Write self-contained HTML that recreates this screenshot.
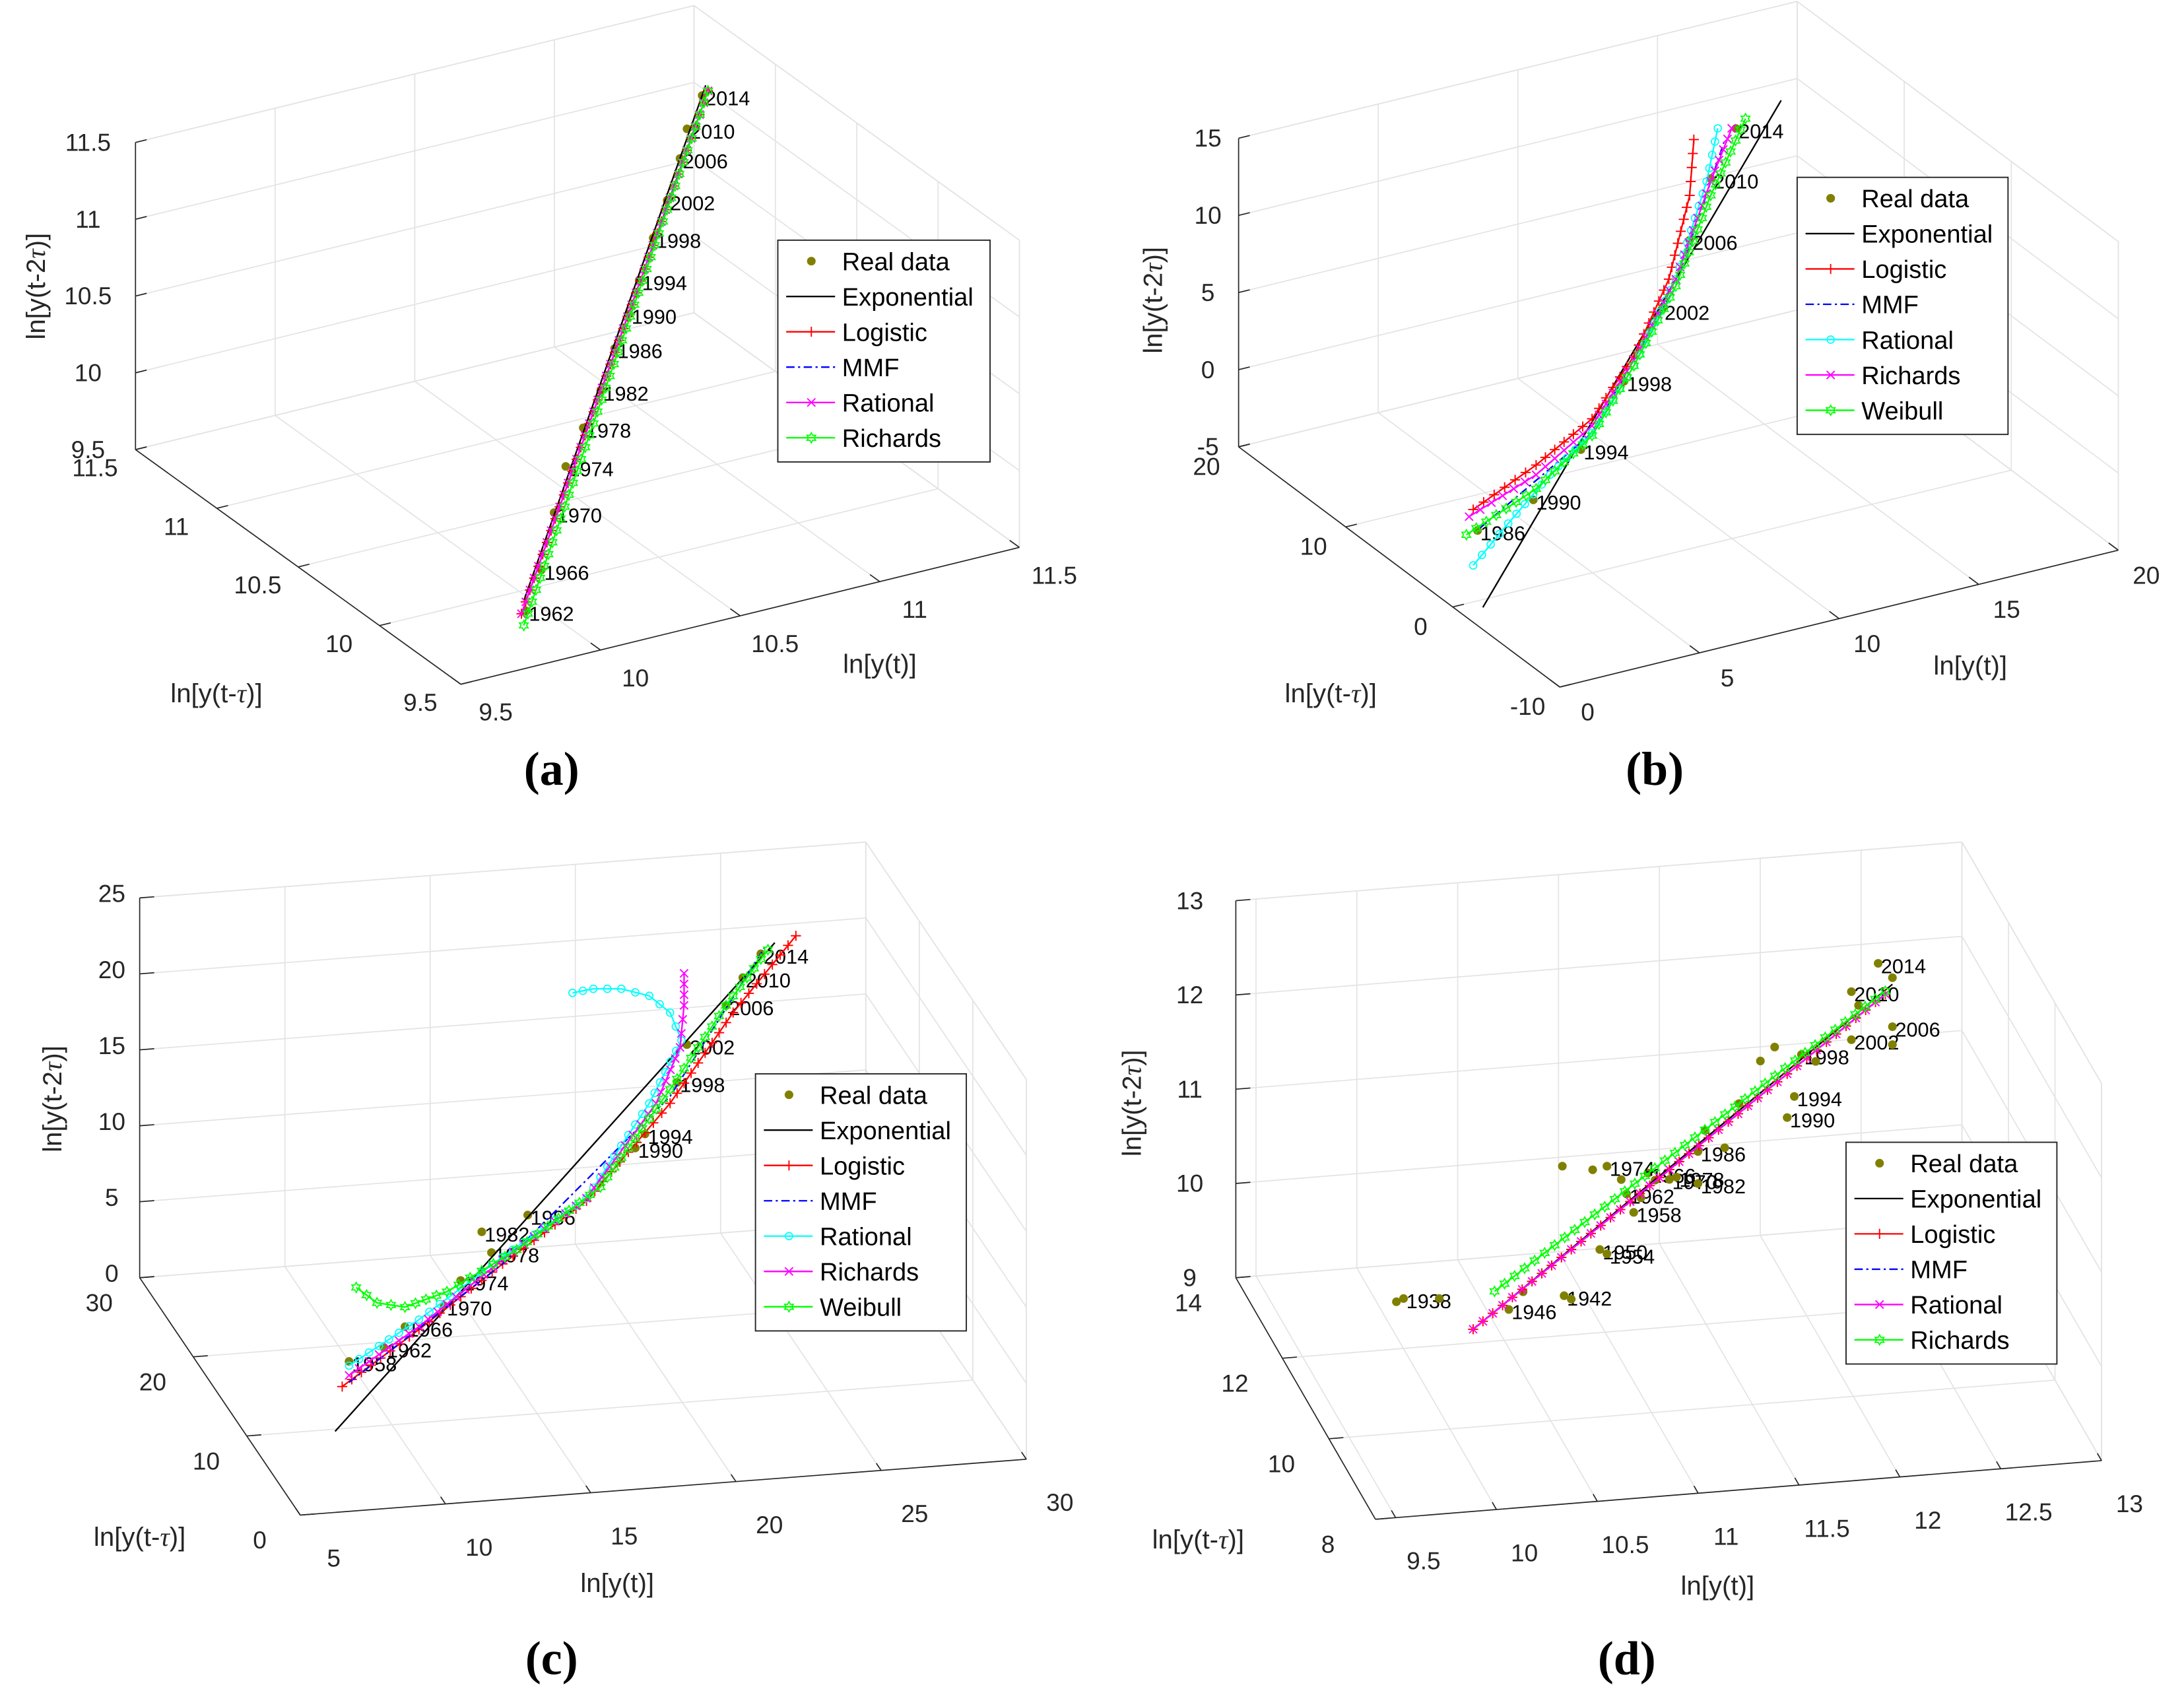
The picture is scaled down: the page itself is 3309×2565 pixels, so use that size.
<!DOCTYPE html>
<html><head><meta charset="utf-8"><style>
html,body{margin:0;padding:0;background:#fff}
svg{display:block}
text{font-family:"Liberation Sans",sans-serif}
</style></head><body>
<svg id="fig" width="3309" height="2565" viewBox="0 0 1564 1212.4" xmlns="http://www.w3.org/2000/svg"></svg>
<script>
// ---------- Panel (a) data ----------
const aYears=["1962","1966","1970","1974","1978","1982","1986","1990","1994","1998","2002","2006","2010","2014"];
const aRealX=[10.06,10.19,10.30,10.40,10.55,10.70,10.82,10.94,11.03,11.15,11.27,11.38,11.44,11.57];
const aRealZ=[9.30,9.41,9.65,9.83,9.90,9.96,10.09,10.17,10.28,10.41,10.51,10.65,10.77,10.83];
const aExpX=[10.04,11.60]; const aExpZ=[9.39,10.86];
const aFitX=[10.02,11.62]; const aFitZ=[9.33,10.80];
const aRichX=[10.04,11.62]; const aRichZ=[9.23,10.80];
// ---------- Panel (b) data ----------
const bYears=["1986","1990","1994","1998","2002","2006","2010","2014"];
const bRealX=[1.44,4.68,7.44,9.95,12.14,13.76,14.98,16.44];
const bRealZ=[-1.43,-2.56,-1.96,0.06,2.57,5.53,8.35,10.19];
const bExpX=[1.75,19.07]; const bExpZ=[-6.71,9.48];
const bLogX=[1.19,4.84,8.09,10.52,12.55,13.76,14.0]; const bLogZ=[0.17,-0.46,-0.59,1.14,4.17,8.43,11.82];
const bMmfX=[1.6,8.09,12.95,15.8]; const bMmfZ=[-1.41,-1.5,3.33,10.09];
const bRatX=[1.19,3.22,5.65,8.09,10.52,12.95,14.74,15.39]; const bRatZ=[-3.45,-2.69,-1.87,-1.5,0.51,3.78,8.39,11.21];
const bRichX=[0.95,4.84,8.09,10.52,12.95,14.98,16.2]; const bRichZ=[-0.06,-1.09,-1.05,0.87,3.78,8.17,10.43];
const bWeiX=[0.79,4.84,8.09,10.52,12.95,14.98,17.0]; const bWeiZ=[-1.08,-2.0,-1.68,0.51,3.33,7.26,10.29];
// ---------- Panel (c) data ----------
const cYears=["1958","1962","1966","1970","1974","1978","1982","1986","1990","1994","1998","2002","2006","2010","2014"];
const cRealX=[8.19,9.66,10.55,12.2,12.9,14.2,13.79,15.73,20.27,20.68,22.04,22.45,24.1,24.81,25.57];
const cRealZ=[5.38,5.31,6.09,6.37,7.56,8.53,10.17,9.98,11.36,12.01,14.5,16.71,18.18,19.54,20.6];
const cExpX=[7.6,26.16]; const cExpZ=[1.17,20.94];
const cLogX=[7.9,11.14,14.67,18.21,21.74,24.4,27.05]; const cLogZ=[3.92,5.51,7.47,9.25,13.32,17.52,20.8];
const cMmfX=[8.19,14.67,21.74,25.75]; const cMmfZ=[4.0,7.47,13.78,20.94];
const cRatX=[8.19,11.14,14.67,18.21,20.86,22.22,21.74,20.86,19.68,18.5,17.62]; const cRatZ=[5.1,6.16,7.93,9.43,13.9,17.14,19.29,20.98,22.23,23.02,23.34];
const cRichX=[8.19,11.14,14.67,18.21,21.15,22.16,22.33,22.33]; const cRichZ=[4.46,5.7,7.75,9.43,13.71,16.72,19.37,21.48];
const cWeiX=[8.49,9.37,10.55,12.32,15.26,18.8,21.74,24.1,25.87]; const cWeiZ=[10.05,8.45,7.38,7.21,8.0,9.77,14.24,18.18,20.67];
// ---------- Panel (d) data ----------
const dYears=["1938","","","1946","","1942","","1950","1954","1958","1962","1966","1970","1974","","","","","1978","1982","1986","","","1990","","1994","1998","","","","2002","2006","","2010","","2014","",""];
const dRealX=[9.74,9.70,9.94,10.33,10.41,10.64,10.68,10.84,10.88,11.03,10.99,11.11,11.23,10.88,10.63,10.80,10.96,11.07,11.27,11.39,11.39,11.43,11.54,11.89,11.62,11.93,11.97,11.74,11.82,12.05,12.25,12.48,12.48,12.25,12.29,12.40,12.48,11.15];
const dRealZ=[10.54,10.53,10.42,10.07,10.21,10.03,9.97,10.40,10.33,10.68,10.90,11.05,10.91,11.26,11.41,11.27,11.07,10.81,10.91,10.77,11.11,11.31,11.06,11.17,11.48,11.37,11.79,11.86,11.96,11.67,11.78,11.78,11.59,12.29,12.12,12.50,12.30,10.95];
const dExpX=[10.13,12.48]; const dExpZ=[9.98,12.23];
const dFitX=[10.13,12.44]; const dFitZ=[9.98,12.15];
const dRichX=[10.25,12.44]; const dRichZ=[10.31,12.18];
// ---------- axis ticks ----------
const aXTicks=[9.5,10,10.5,11,11.5], aYTicks=[9.5,10,10.5,11,11.5], aZTicks=[9.5,10,10.5,11,11.5];
const bXTicks=[0,5,10,15,20], bYTicks=[-10,0,10,20], bZTicks=[-5,0,5,10,15];
const cXTicks=[5,10,15,20,25,30], cYTicks=[0,10,20,30], cZTicks=[0,5,10,15,20,25];
const dXTicks=[9.5,10,10.5,11,11.5,12,12.5,13], dYTicks=[8,10,12,14], dZTicks=[9,10,11,12,13];

const NS="http://www.w3.org/2000/svg";
const svg=document.getElementById('fig');
function mk(tag,attrs,parent){const e=document.createElementNS(NS,tag);for(const k in attrs)e.setAttribute(k,attrs[k]);(parent||svg).appendChild(e);return e;}
function fmt(v){return String(v);}

function makePanel(cfg){
  const g=mk('g',{});
  
  
  const P=(x,y,z)=>[cfg.O[0]+(x-cfg.x0)/cfg.Lx*cfg.ex[0]+(y-cfg.y0)/cfg.Ly*cfg.ey[0]+(z-cfg.z0)/cfg.Lz*cfg.ez[0],
                    cfg.O[1]+(x-cfg.x0)/cfg.Lx*cfg.ex[1]+(y-cfg.y0)/cfg.Ly*cfg.ey[1]+(z-cfg.z0)/cfg.Lz*cfg.ez[1]];
  const x1=cfg.x0+cfg.Lx,y1=cfg.y0+cfg.Ly,z1=cfg.z0+cfg.Lz;
  const ln=(a,b,st,par)=>mk('line',{x1:a[0],y1:a[1],x2:b[0],y2:b[1],stroke:st||'#e3e3e3','stroke-width':0.8},par||g);
  const grid=mk('g',{},g);
  
  
  cfg.xt.forEach(v=>{ln(P(v,cfg.y0,cfg.z0),P(v,y1,cfg.z0),null,grid);ln(P(v,y1,cfg.z0),P(v,y1,z1),null,grid);});
  cfg.yt.forEach(v=>{ln(P(cfg.x0,v,cfg.z0),P(x1,v,cfg.z0),null,grid);ln(P(x1,v,cfg.z0),P(x1,v,z1),null,grid);});
  cfg.zt.forEach(v=>{ln(P(cfg.x0,y1,v),P(x1,y1,v),null,grid);ln(P(x1,y1,v),P(x1,cfg.y0,v),null,grid);});
  [[P(cfg.x0,y1,z1),P(x1,y1,z1)],[P(x1,y1,z1),P(x1,cfg.y0,z1)],[P(x1,cfg.y0,cfg.z0),P(x1,cfg.y0,z1)],[P(x1,y1,cfg.z0),P(x1,y1,z1)],[P(x1,cfg.y0,cfg.z0),P(x1,y1,cfg.z0)],[P(cfg.x0,y1,cfg.z0),P(x1,y1,cfg.z0)]].forEach(s=>ln(s[0],s[1],null,grid));
  const axc='#262626';
  const xa=ln(P(cfg.x0,cfg.y0,cfg.z0),P(x1,cfg.y0,cfg.z0),axc);
  
  
  const ya=ln(P(cfg.x0,cfg.y0,cfg.z0),P(cfg.x0,y1,cfg.z0),axc);
  
  
  const za=ln(P(cfg.x0,y1,cfg.z0),P(cfg.x0,y1,z1),axc);
  
  
  const tl=(p,txt,off,nm)=>{const t=mk('text',{x:p[0]+off[0],y:p[1]+off[1]+6,'font-size':17.5,'text-anchor':'middle',fill:'#262626'},g);t.textContent=txt;
    
    };
  cfg.xt.forEach(v=>{const p=P(v,cfg.y0,cfg.z0);const q=P(v,cfg.y0+cfg.Ly*0.03,cfg.z0);ln(p,q,axc);tl(p,fmt(v),cfg.xo,'x-tick-label');});
  cfg.yt.forEach(v=>{const p=P(cfg.x0,v,cfg.z0);const q=P(cfg.x0+cfg.Lx*0.02,v,cfg.z0);ln(p,q,axc);tl(p,fmt(v),cfg.yo,'y-tick-label');});
  cfg.zt.forEach(v=>{const p=P(cfg.x0,y1,v);const q=P(cfg.x0+cfg.Lx*0.02,y1,v);ln(p,q,axc);tl(p,fmt(v),cfg.zo,'z-tick-label');});
  const at=(x,y,txt,rot,nm)=>{const t=mk('text',{x:x,y:y,'font-size':19,'text-anchor':'middle',fill:'#262626'},g);
    if(rot)t.setAttribute('transform','rotate(-90 '+x+' '+y+')');
    t.innerHTML=txt;
    
    };
  const tau='<tspan style="font-family:\'Liberation Serif\',serif;font-style:italic">τ</tspan>';
  at(cfg.tz[0],cfg.tz[1],'ln[y(t-2'+tau+')]',true,'z-axis-title');
  at(cfg.ty[0],cfg.ty[1],'ln[y(t-'+tau+')]',false,'y-axis-title');
  at(cfg.tx[0],cfg.tx[1],'ln[y(t)]',false,'x-axis-title');
  cfg.series.forEach(s=>{
    const sg=mk('g',{},g);
    
    
    const pts=s.x.map((xv,i)=>P(xv,(s.y?s.y[i]:xv),s.z[i]));
    if(s.kind==='dots'){
      pts.forEach((p,i)=>{const c=mk('circle',{cx:p[0],cy:p[1],r:3.1,fill:'#808000'},sg);
        
        
        if(s.years&&s.years[i]){const t=mk('text',{x:p[0]+2,y:p[1]+7,'font-size':14.5,fill:'#000'},sg);t.textContent=s.years[i];
          
          }});
      return;
    }
    const pl=mk('polyline',{points:pts.map(p=>p.join(',')).join(' '),fill:'none',stroke:s.color,'stroke-width':1.1},sg);
    if(s.dash)pl.setAttribute('stroke-dasharray',s.dash);
    
    
    if(s.marker){
      for(let i=0;i<pts.length-1;i++){
        const a=pts[i],b=pts[i+1];const L=Math.hypot(b[0]-a[0],b[1]-a[1]);const n=Math.max(1,Math.round(L/9));
        for(let k=0;k<n;k++){const t=k/n;drawMarker(sg,a[0]+(b[0]-a[0])*t,a[1]+(b[1]-a[1])*t,s.marker,s.color);}
      }
      const l=pts[pts.length-1];drawMarker(sg,l[0],l[1],s.marker,s.color);
    }
  });
  const lg=mk('g',{},g);
  
  
  const L=cfg.legend;
  mk('rect',{x:L.x,y:L.y,width:L.w,height:L.n*25.3+7,fill:'#fff',stroke:'#262626','stroke-width':0.9},lg);
  cfg.series.forEach((s,i)=>{
    const cy=L.y+15+i*25.3;
    const e=mk('g',{},lg);
    
    
    if(s.kind==='dots'){mk('circle',{cx:L.x+24,cy:cy,r:3.1,fill:'#808000'},e);}
    else{const l2=mk('line',{x1:L.x+6,y1:cy,x2:L.x+41,y2:cy,stroke:s.color,'stroke-width':1.1},e);if(s.dash)l2.setAttribute('stroke-dasharray',s.dash);
      if(s.marker)drawMarker(e,L.x+24,cy,s.marker,s.color);}
    const t=mk('text',{x:L.x+46,y:cy+6.5,'font-size':18,fill:'#000'},e);t.textContent=s.label;
  });
  const cap=mk('text',{x:cfg.cap[0],y:cfg.cap[1],'font-size':34,'text-anchor':'middle',fill:'#000',style:"font-family:'Liberation Serif',serif;font-weight:bold"},g);
  cap.textContent=cfg.capText;
  
  
}
function drawMarker(par,x,y,m,c){
  const r=3.6;
  if(m==='+'){mk('path',{d:`M${x-r},${y}H${x+r}M${x},${y-r}V${y+r}`,stroke:c,'stroke-width':0.9,fill:'none'},par);}
  else if(m==='x'){mk('path',{d:`M${x-r*.8},${y-r*.8}L${x+r*.8},${y+r*.8}M${x-r*.8},${y+r*.8}L${x+r*.8},${y-r*.8}`,stroke:c,'stroke-width':0.9,fill:'none'},par);}
  else if(m==='o'){mk('circle',{cx:x,cy:y,r:2.6,stroke:c,'stroke-width':0.8,fill:'none'},par);}
  else if(m==='h'){let d='';for(let k=0;k<12;k++){const a=k*Math.PI/6-Math.PI/2;const rr=k%2?2.0:3.6;d+=(k?'L':'M')+(x+rr*Math.cos(a))+','+(y+rr*Math.sin(a));}
    mk('path',{d:d+'Z',stroke:c,'stroke-width':0.8,fill:'none'},par);}
}
const BLK='#000000',RED='#ff0000',BLU='#0000ff',CYA='#00ffff',MAG='#ff00ff',GRN='#00ff00',DD='6,2.5,1.5,2.5';

makePanel({name:'panel-a',capText:'(a)',cap:[395,562],O:[330,490],x0:9.5,Lx:2,ex:[400,-98],y0:9.5,Ly:2,ey:[-233,-168],z0:9.5,Lz:2,ez:[0,-220],
  xt:aXTicks,yt:aYTicks,zt:aZTicks,xo:[25,20],yo:[-29,13],zo:[-34,0],tz:[32,205],ty:[155,503],tx:[630,482],
  legend:{x:557,y:172,w:152,n:6},
  series:[{kind:'dots',label:'Real data',x:aRealX,z:aRealZ,years:aYears},
    {label:'Exponential',color:BLK,x:aExpX,z:aExpZ},
    {label:'Logistic',color:RED,marker:'+',x:aFitX,z:aFitZ},
    {label:'MMF',color:BLU,dash:DD,x:aFitX,z:aFitZ},
    {label:'Rational',color:MAG,marker:'x',x:aFitX,z:aFitZ},
    {label:'Richards',color:GRN,marker:'h',x:aRichX,z:aRichZ}]});

makePanel({name:'panel-b',capText:'(b)',cap:[1185,562],O:[1117,492],x0:0,Lx:20,ex:[400,-98],y0:-10,Ly:30,ey:[-230,-172],z0:-5,Lz:20,ez:[0,-221],
  xt:bXTicks,yt:bYTicks,zt:bZTicks,xo:[20,18],yo:[-23,14],zo:[-22,0],tz:[832,215],ty:[953,503],tx:[1411,483],
  legend:{x:1287,y:127,w:151,n:7},
  series:[{kind:'dots',label:'Real data',x:bRealX,z:bRealZ,years:bYears},
    {label:'Exponential',color:BLK,x:bExpX,z:bExpZ},
    {label:'Logistic',color:RED,marker:'+',x:bLogX,z:bLogZ},
    {label:'MMF',color:BLU,dash:DD,x:bMmfX,z:bMmfZ},
    {label:'Rational',color:CYA,marker:'o',x:bRatX,z:bRatZ},
    {label:'Richards',color:MAG,marker:'x',x:bRichX,z:bRichZ},
    {label:'Weibull',color:GRN,marker:'h',x:bWeiX,z:bWeiZ}]});

makePanel({name:'panel-c',capText:'(c)',cap:[395,1199],O:[215,1085],x0:5,Lx:25,ex:[520,-40],y0:0,Ly:30,ey:[-115,-170],z0:0,Lz:25,ez:[0,-272],
  xt:cXTicks,yt:cYTicks,zt:cZTicks,xo:[24,31],yo:[-29,18],zo:[-20,-3],tz:[44,787],ty:[100,1107],tx:[442,1140],
  legend:{x:541,y:769,w:151,n:7},
  series:[{kind:'dots',label:'Real data',x:cRealX,z:cRealZ,years:cYears},
    {label:'Exponential',color:BLK,x:cExpX,z:cExpZ},
    {label:'Logistic',color:RED,marker:'+',x:cLogX,z:cLogZ},
    {label:'MMF',color:BLU,dash:DD,x:cMmfX,z:cMmfZ},
    {label:'Rational',color:CYA,marker:'o',x:cRatX,z:cRatZ},
    {label:'Richards',color:MAG,marker:'x',x:cRichX,z:cRichZ},
    {label:'Weibull',color:GRN,marker:'h',x:cWeiX,z:cWeiZ}]});

makePanel({name:'panel-d',capText:'(d)',cap:[1165,1199],O:[985,1088],x0:9.4,Lx:3.6,ex:[520,-42],y0:8,Ly:6,ey:[-100,-173],z0:9,Lz:4,ez:[0,-270],
  xt:dXTicks,yt:dYTicks,zt:dZTicks,xo:[20,31],yo:[-34,18],zo:[-33,0],tz:[817,790],ty:[858,1109],tx:[1230,1142],
  legend:{x:1322,y:818,w:151,n:6},
  series:[{kind:'dots',label:'Real data',x:dRealX,z:dRealZ,years:dYears},
    {label:'Exponential',color:BLK,x:dExpX,z:dExpZ},
    {label:'Logistic',color:RED,marker:'+',x:dFitX,z:dFitZ},
    {label:'MMF',color:BLU,dash:DD,x:dFitX,z:dFitZ},
    {label:'Rational',color:MAG,marker:'x',x:dFitX,z:dFitZ},
    {label:'Richards',color:GRN,marker:'h',x:dRichX,z:dRichZ}]});
</script>
</body></html>
